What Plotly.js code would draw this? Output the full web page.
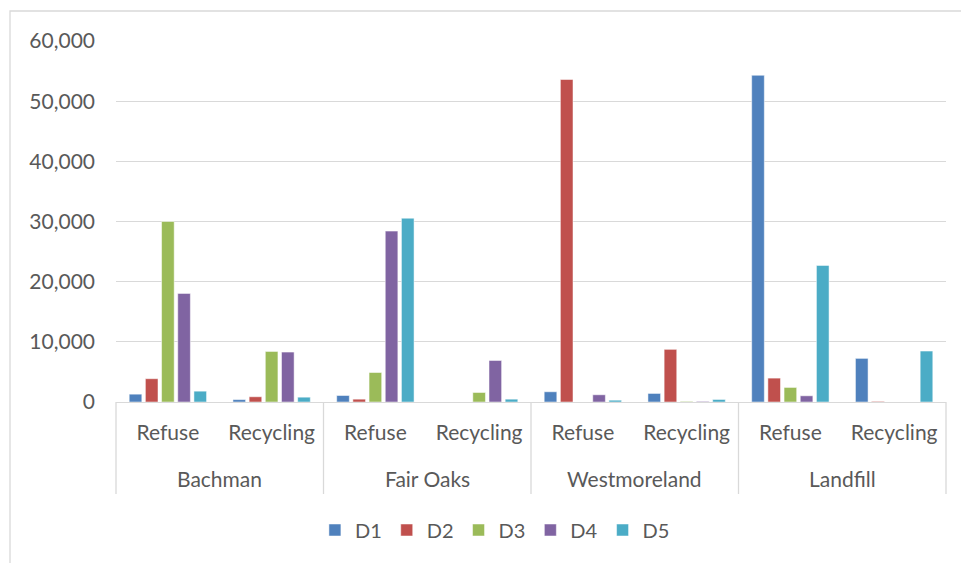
<!DOCTYPE html>
<html>
<head>
<meta charset="utf-8">
<script src="https://cdn.plot.ly/plotly-3.0.1.min.js"></script>
<style>html,body{margin:0;padding:0;background:#fff;}#chart{width:961px;height:563px;}</style>
</head>
<body>
<div id="chart"></div>
<script>
const sites = ["Bachman","Bachman","Fair Oaks","Fair Oaks","Westmoreland","Westmoreland","Landfill","Landfill"];
const streams = ["Refuse","Recycling","Refuse","Recycling","Refuse","Recycling","Refuse","Recycling"];
const seriesNames = ["D1","D2","D3","D4","D5"];
const D1 = [1300, 400, 1080, 0, 1700, 1420, 54300, 7250];
const D2 = [3870, 870, 470, 0, 53600, 8750, 3970, 100];
const D3 = [30000, 8400, 4900, 1580, 0, 100, 2420, 0];
const D4 = [18050, 8300, 28400, 6900, 1200, 100, 1030, 0];
const D5 = [1800, 800, 30550, 470, 300, 420, 22700, 8470];
const colors = ["#4F81BD","#C0504D","#9BBB59","#8064A2","#4BACC6"];
const values = [D1, D2, D3, D4, D5];

const keys = sites.map((s, i) => s + "|" + streams[i]);
const uniqueSites = sites.filter((s, i) => sites.indexOf(s) === i);

const font = "Lato, 'Open Sans', sans-serif";
const txt = "#595959";
const traces = seriesNames.map((n, i) => ({
  type: "bar",
  name: n,
  x: keys,
  y: values[i],
  marker: {color: colors[i], line: {color: "#ffffff", width: 0.5}}
}));

const plotBottom = 0.2031;
const shapes = [];
for (let k = 0; k <= uniqueSites.length; k++) {
  shapes.push({type: "line", xref: "paper", yref: "paper",
    x0: k / uniqueSites.length, x1: k / uniqueSites.length, y0: 0, y1: plotBottom,
    line: {color: "#d9d9d9", width: 1.3}});
}
shapes.push({type: "rect", xref: "paper", yref: "paper",
  x0: -0.1277, x1: 1.03, y0: -0.2, y1: 1.0662,
  line: {color: "#d9d9d9", width: 1.3}, fillcolor: "rgba(0,0,0,0)", layer: "below"});

const annotations = uniqueSites.map((s, i) => ({
  text: s, xref: "paper", yref: "paper",
  x: (i + 0.5) / uniqueSites.length, y: 0.0353,
  xanchor: "center", yanchor: "middle", showarrow: false,
  font: {family: font, size: 21, color: txt}
}));

const layout = {
  width: 961, height: 563,
  margin: {l: 116, r: 15, t: 41, b: 69},
  paper_bgcolor: "#ffffff",
  plot_bgcolor: "#ffffff",
  barmode: "group",
  bargap: 0.22,
  bargroupgap: 0.22,
  font: {family: font, size: 21, color: txt},
  xaxis: {
    type: "category",
    automargin: false,
    tickmode: "array",
    tickvals: keys,
    ticktext: streams,
    showgrid: false,
    showline: true,
    linecolor: "#d9d9d9",
    linewidth: 1.3,
    ticks: "",
    ticklabelstandoff: 12,
    tickfont: {family: font, size: 21, color: txt}
  },
  yaxis: {
    domain: [plotBottom, 1],
    range: [0, 60000],
    tickvals: [0,10000,20000,30000,40000,50000,60000],
    tickformat: ",",
    showgrid: true,
    gridcolor: "#d9d9d9",
    gridwidth: 1.3,
    zeroline: false,
    showline: false,
    ticks: "",
    automargin: false,
    ticklabelstandoff: 20,
    tickfont: {family: font, size: 21, color: txt}
  },
  legend: {
    orientation: "h",
    xref: "container", yref: "container",
    x: 0.515, xanchor: "center",
    y: 1 - 530 / 563, yanchor: "middle",
    font: {family: font, size: 20, color: txt},
    itemwidth: 30,
    traceorder: "normal"
  },
  annotations: annotations,
  shapes: shapes,
  showlegend: true
};

Plotly.newPlot("chart", traces, layout, {displayModeBar: false, staticPlot: true});
</script>
</body>
</html>
